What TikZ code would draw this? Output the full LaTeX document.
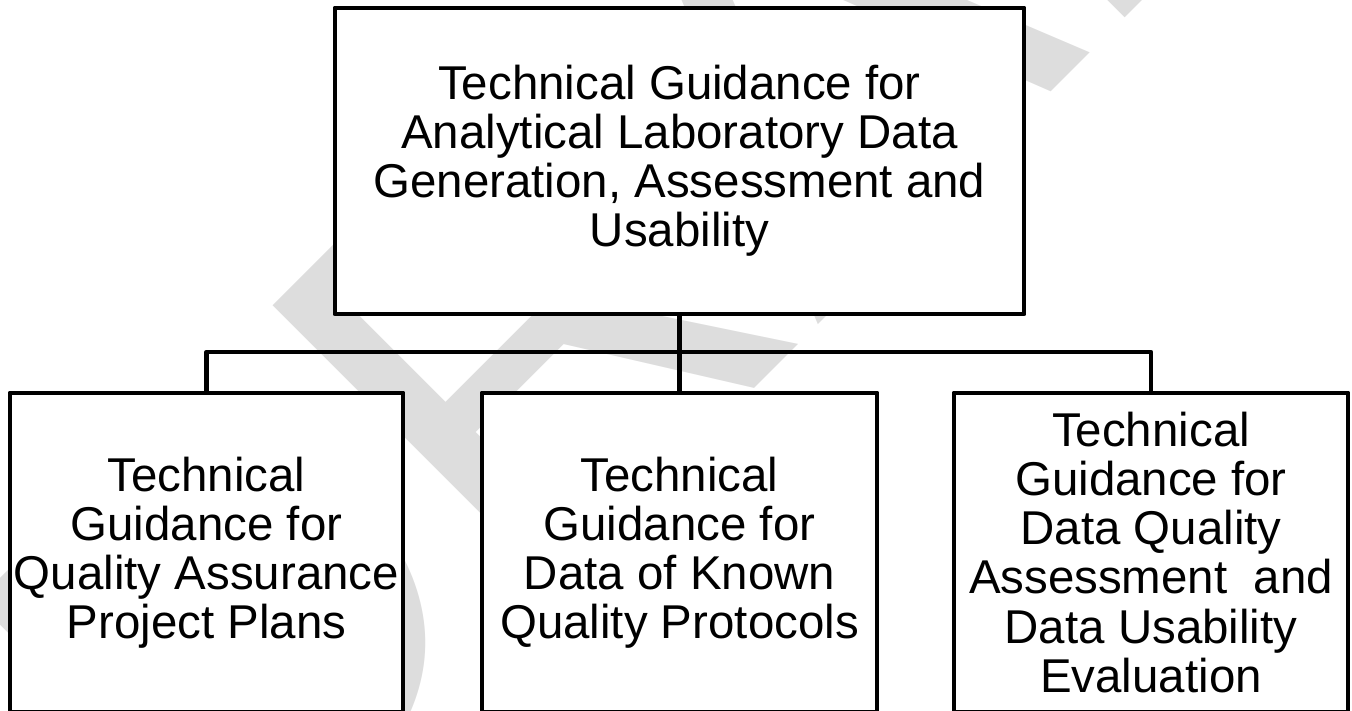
\documentclass[tikz,border=0pt]{standalone}
\usepackage{fontspec}
\setmainfont{Liberation Sans}
\usepackage{tikz}
\usetikzlibrary{positioning}
\usepackage{xcolor}
\definecolor{wmgray}{RGB}{221,221,221}

\begin{document}
\begin{tikzpicture}[
    docbox/.style={draw, rectangle, fill=white, line width=1.4pt, line join=round, inner sep=0pt, outer sep=0pt, align=center, font=\fontsize{13.5}{13.95}\selectfont},
    link/.style={line width=1.3pt, line join=round}
  ]
    \useasboundingbox (0,0) rectangle (13.52,7.10);
    \clip (0,0) rectangle (13.52,7.10);

    % Watermark behind the boxes
    \node (watermark) [rotate=45, anchor=base west, inner sep=0pt, text=wmgray, font=\fontsize{165}{165}\selectfont] at (2.25,-2.08) {DRAFT};

    % Top document
    \node (main) [docbox, minimum width=6.89cm, minimum height=3.06cm] at (6.795,5.49) {Technical Guidance for\\Analytical Laboratory Data\\Generation, Assessment and\\Usability};

    % The three guidance documents below it
    \node (dkqp) [docbox, below=0.79cm of main, minimum width=3.95cm, minimum height=3.19cm] {Technical\\Guidance for\\Data of Known\\Quality Protocols};
    \node (qapp) [docbox, left=0.79cm of dkqp, minimum width=3.93cm, minimum height=3.19cm] {Technical\\Guidance for\\Quality Assurance\\Project Plans};
    \node (dqa) [docbox, right=0.77cm of dkqp, minimum width=3.94cm, minimum height=3.19cm] {Technical\\Guidance for\\Data Quality\\Assessment~ and\\Data Usability\\Evaluation};

    % Tree lines
    \coordinate (bus) at ([yshift=4.1mm]dkqp.north);
    \draw[link] (main.south) -- (dkqp.north);
    \draw[link] (qapp.north) |- (bus) -| (dqa.north);
\end{tikzpicture}
\end{document}
